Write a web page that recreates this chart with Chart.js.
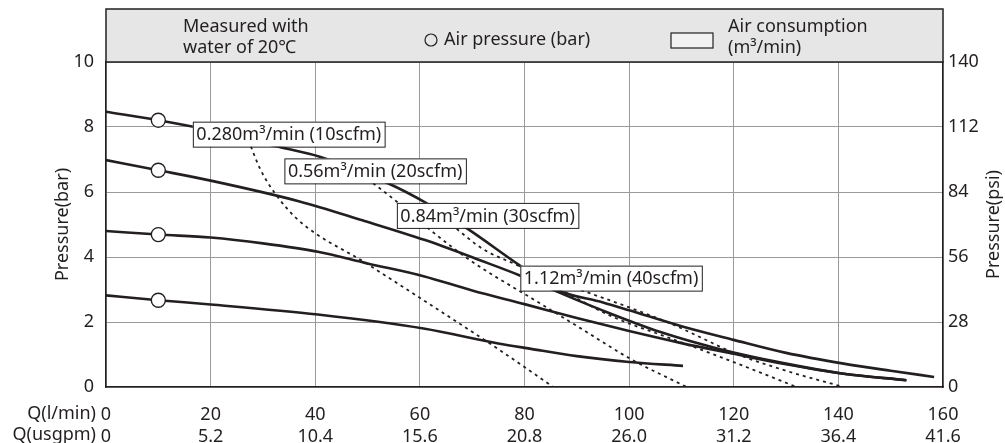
<!DOCTYPE html>
<html>
<head>
<meta charset="utf-8">
<script src="https://cdn.jsdelivr.net/npm/chart.js@4/dist/chart.umd.min.js"></script>
<style>
  html, body { margin: 0; padding: 0; background: #fff; }
  #wrap { width: 1005px; height: 443px; }
</style>
</head>
<body>
<div id="wrap"><canvas id="pump"></canvas></div>
<script>
// axis ticks
const flowLpm = [0, 20, 40, 60, 80, 100, 120, 140, 160];
const flowUsgpm = ["0", "5.2", "10.4", "15.6", "20.8", "26.0", "31.2", "36.4", "41.6"];
const barTicks = [0, 2, 4, 6, 8, 10];
const psiTicks = [0, 28, 56, 84, 112, 140];

// pressure curves (flow l/min -> head bar)
const curve85Flow = [0, 10, 20, 33, 41, 54, 61, 69, 79, 86, 95, 100, 110, 120, 130, 141, 150, 158.3];
const curve85Bar  = [8.47, 8.21, 7.9, 7.39, 7.08, 6.26, 5.68, 4.88, 3.75, 3.0, 2.6, 2.36, 1.87, 1.45, 1.05, 0.72, 0.5, 0.31];
const curve70Flow = [0, 10, 20, 37, 49, 61, 71.5, 79, 86, 95, 106, 117, 130, 141, 153];
const curve70Bar  = [6.98, 6.67, 6.35, 5.71, 5.13, 4.52, 3.9, 3.44, 2.95, 2.35, 1.69, 1.18, 0.72, 0.41, 0.21];
const curve48Flow = [0, 10, 20, 30, 40.5, 50, 60.7, 70, 80, 90, 100, 110, 120, 130, 141, 153];
const curve48Bar  = [4.8, 4.69, 4.6, 4.42, 4.16, 3.8, 3.41, 2.97, 2.55, 2.12, 1.72, 1.35, 1.02, 0.7, 0.41, 0.21];
const curve28Flow = [0, 10, 20, 40.5, 60.7, 75, 81, 90, 100, 110.3];
const curve28Bar  = [2.82, 2.67, 2.54, 2.23, 1.8, 1.34, 1.18, 0.95, 0.77, 0.65];

// air consumption lines (dotted)
const air028Flow = [27.2, 29.5, 32.3, 36.8, 49.8, 60.7, 75.3, 85.5];
const air028Bar  = [7.6, 6.7, 5.96, 5.13, 3.8, 2.67, 1.13, 0];
const air056Flow = [50, 55.6, 61.6, 69.6, 83, 91.3, 100.2, 111];
const air056Bar  = [6.4, 5.7, 4.88, 3.9, 2.57, 1.75, 0.87, 0];
const air084Flow = [66, 72, 79.2, 88, 97, 107, 117, 125, 132];
const air084Bar  = [5.0, 4.25, 3.7, 2.9, 2.15, 1.55, 0.95, 0.45, 0];
const air112Flow = [82, 90.5, 100, 108, 114, 120, 130, 141];
const air112Bar  = [3.5, 3.0, 2.45, 1.95, 1.5, 1.05, 0.5, 0];

// air pressure markers
const markerFlow = [10, 10, 10, 10];
const markerBar  = [8.21, 6.67, 4.69, 2.67];

// air consumption labels
const airLabels = ["0.280m³/min (10scfm)", "0.56m³/min (20scfm)", "0.84m³/min (30scfm)", "1.12m³/min (40scfm)"];
const labelAnchors = [[16.6, 7.78], [34.1, 6.65], [55.6, 5.28], [79.2, 3.35]];

const INK = "#231f20";
const FONT = "'Noto Sans', 'DejaVu Sans', sans-serif";

function pts(xs, ys) {
    return xs.map((x, i) => ({ x: x, y: ys[i] }));
}

function solid(xs, ys) {
    return {
        data: pts(xs, ys), showLine: true, borderColor: INK, borderWidth: 2.6,
        pointRadius: 0, cubicInterpolationMode: "monotone", order: 3
    };
}

function dotted(xs, ys) {
    return {
        data: pts(xs, ys), showLine: true, borderColor: INK, borderWidth: 1.8,
        borderDash: [3, 4], pointRadius: 0, cubicInterpolationMode: "monotone", order: 4
    };
}

// header band, label boxes, axis names
const decor = {
    id: "decor",
    afterDatasetsDraw(chart) {
        const ctx = chart.ctx;
        const xs = chart.scales.x, ys = chart.scales.y;
        ctx.save();
        ctx.font = "18px " + FONT;
        ctx.textBaseline = "middle";
        airLabels.forEach((txt, i) => {
            const px = xs.getPixelForValue(labelAnchors[i][0]);
            const py = ys.getPixelForValue(labelAnchors[i][1]);
            const w = ctx.measureText(txt).width + 7;
            ctx.fillStyle = "#fff";
            ctx.fillRect(px, py - 12.5, w, 25);
            ctx.strokeStyle = INK;
            ctx.lineWidth = 1;
            ctx.strokeRect(px + 0.5, py - 12, w, 25);
            ctx.fillStyle = INK;
            ctx.textAlign = "left";
            ctx.fillText(txt, px + 3.5, py + 1);
        });
        ctx.restore();
    },
    afterDraw(chart) {
        const ctx = chart.ctx;
        const a = chart.chartArea;
        ctx.save();
        // header
        ctx.fillStyle = "#e6e6e6";
        ctx.fillRect(a.left, 9, a.right - a.left, a.top - 9);
        ctx.strokeStyle = INK;
        ctx.lineWidth = 1.5;
        ctx.strokeRect(a.left, 9, a.right - a.left, a.top - 9);

        ctx.fillStyle = INK;
        ctx.font = "18px " + FONT;
        ctx.textBaseline = "middle";
        ctx.textAlign = "left";
        ctx.fillText("Measured with", 183, 27);
        ctx.fillText("water of 20℃", 183, 48);

        ctx.beginPath();
        ctx.arc(431, 40, 6, 0, Math.PI * 2);
        ctx.lineWidth = 1.2;
        ctx.stroke();
        ctx.fillText("Air pressure (bar)", 444, 40);

        ctx.fillStyle = "#f2f2f2";
        ctx.fillRect(671, 33, 42, 15);
        ctx.strokeRect(671, 33, 42, 15);
        ctx.fillStyle = INK;
        ctx.fillText("Air consumption", 728, 27);
        ctx.fillText("(m³/min)", 728, 48);

        // x axis names
        ctx.textAlign = "right";
        ctx.fillText("Q(l/min)", 96, 414, 71);
        ctx.fillText("Q(usgpm)", 96, 435, 87);

        // y axis titles, both reading bottom to top
        const midY = (a.top + a.bottom) / 2;
        ctx.textAlign = "center";
        [[63, "Pressure(bar)"], [994, "Pressure(psi)"]].forEach(([x, t]) => {
            ctx.save();
            ctx.translate(x, midY);
            ctx.rotate(-Math.PI / 2);
            ctx.fillText(t, 0, 0);
            ctx.restore();
        });
        ctx.restore();
    }
};

new Chart(document.getElementById("pump"), {
    type: "scatter",
    data: {
        datasets: [
            {
                data: pts(markerFlow, markerBar), pointRadius: 7, pointBackgroundColor: "#fff",
                pointBorderColor: INK, pointBorderWidth: 1.4, showLine: false, order: 1
            },
            solid(curve85Flow, curve85Bar),
            solid(curve70Flow, curve70Bar),
            solid(curve48Flow, curve48Bar),
            solid(curve28Flow, curve28Bar),
            dotted(air028Flow, air028Bar),
            dotted(air056Flow, air056Bar),
            dotted(air084Flow, air084Bar),
            dotted(air112Flow, air112Bar)
        ]
    },
    options: {
        responsive: true,
        maintainAspectRatio: false,
        animation: false,
        layout: { padding: { top: 62, left: 0, right: 0, bottom: 0 } },
        plugins: { legend: { display: false }, tooltip: { enabled: false } },
        scales: {
            x: {
                type: "linear", min: 0, max: 160,
                afterBuildTicks: s => { s.ticks = flowLpm.map(v => ({ value: v })); },
                afterFit: s => { s.height = 56; },
                ticks: {
                    color: INK, font: { family: FONT, size: 18, lineHeight: 1.2 }, padding: 17,
                    maxRotation: 0, autoSkip: false,
                    callback: (v, i) => [String(flowLpm[i]), flowUsgpm[i]]
                },
                grid: { color: "#9a9a9a", lineWidth: 1, drawTicks: false },
                border: { color: INK, width: 1.5 }
            },
            y: {
                position: "left", min: 0, max: 10,
                afterBuildTicks: s => { s.ticks = barTicks.map(v => ({ value: v })); },
                afterFit: s => { s.width = 106; },
                ticks: { color: INK, font: { family: FONT, size: 18 }, padding: 12 },
                grid: { color: "#9a9a9a", lineWidth: 1, drawTicks: false },
                border: { color: INK, width: 1.5 }
            },
            y2: {
                position: "right", min: 0, max: 140,
                afterBuildTicks: s => { s.ticks = psiTicks.map(v => ({ value: v })); },
                afterFit: s => { s.width = 62; },
                ticks: { color: INK, font: { family: FONT, size: 18 }, padding: 5 },
                grid: { drawOnChartArea: false, drawTicks: false },
                border: { color: INK, width: 1.5 }
            }
        }
    },
    plugins: [decor]
});
</script>
</body>
</html>
